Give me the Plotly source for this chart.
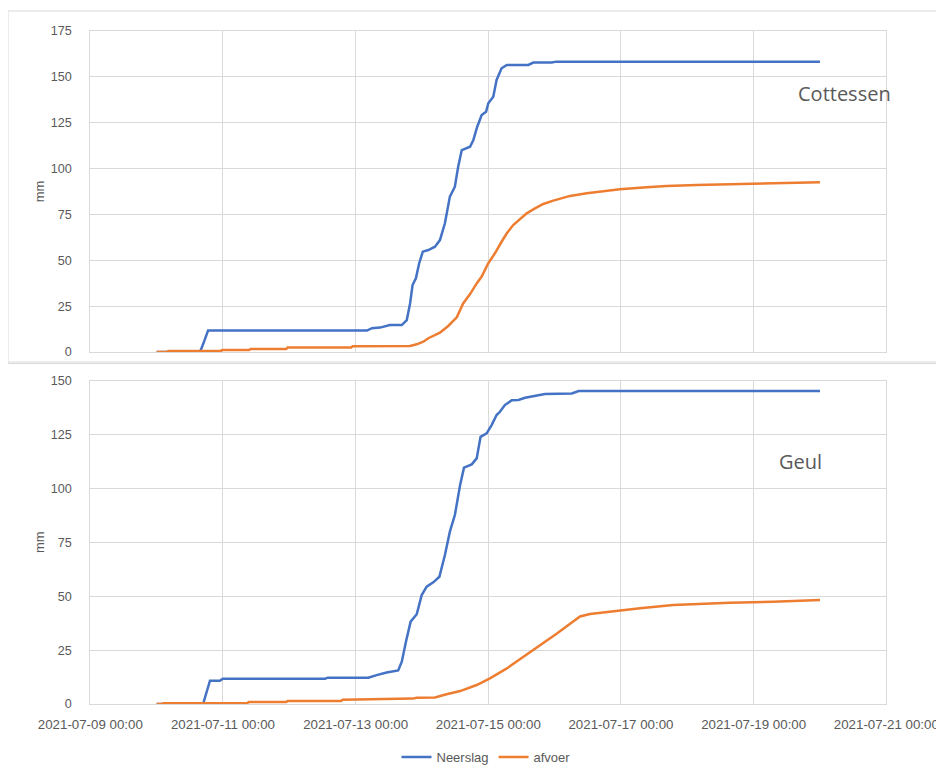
import pandas as pd
import plotly.graph_objects as go

T0 = pd.Timestamp("2021-07-09 00:00")

# Cottessen - hours since 2021-07-09 00:00 and cumulative mm
cot_neer_h = [24, 39.7, 41.0, 42.6, 100.1, 101.9, 104.8, 108.4, 112.7, 114.5, 115.7, 116.6,
              117.8, 119.0, 120.3, 122.3, 124.7, 126.5, 128.3, 130.1, 131.9, 133.1, 134.4,
              137.4, 138.6, 140.0, 141.6, 143.2, 144.0, 145.8, 147.0, 148.8, 150.7, 158.5,
              160.3, 166.9, 168.7, 264]
cot_neer_mm = [0, 0, 5, 11.7, 11.7, 13.0, 13.3, 14.7, 14.7, 17.4, 26.5, 36.5,
               40.2, 48.4, 54.7, 55.6, 57.4, 61, 70.2, 84.7, 90.1, 101, 110.1,
               111.9, 115.6, 122.8, 129.2, 131, 135.6, 139.2, 148.3, 154.7, 156.5, 156.5,
               157.8, 157.8, 158.3, 158.3]

cot_afv_h = [24, 27.6, 28.3, 47.2, 47.7, 57.5, 58.0, 70.9, 71.4, 94.4, 94.9, 115.7, 118.1,
             120.5, 122.3, 126.5, 129.5, 132.6, 134.9, 137.4, 139.8, 141.6, 144.0, 146.4,
             148.8, 150.7, 153.0, 155.5, 157.9, 160.9, 163.9, 167.5, 173.6, 179.6, 185.6,
             191.6, 201.3, 208.5, 219.4, 233.9, 258.0, 264]
cot_afv_mm = [0, 0, 0.5, 0.5, 1.1, 1.1, 1.7, 1.7, 2.4, 2.4, 3.1, 3.3, 4.2,
              5.6, 7.5, 10.5, 14.2, 18.9, 26.5, 31.6, 37.4, 41.1, 48.4, 53.8,
              60.1, 64.7, 69.2, 72.5, 75.6, 78.3, 80.7, 82.5, 85.1, 86.5, 87.8,
              88.7, 89.8, 90.5, 91.1, 91.6, 92.3, 92.5]

# Geul
geul_neer_h = [24, 40.8, 43.3, 46.9, 47.9, 84.9, 86.0, 100.6, 103.6, 107.2, 111.4, 112.7,
               114.2, 115.9, 118.1, 119.9, 121.7, 124.1, 126.3, 128.3, 130.1, 131.9, 133.8,
               135.2, 138.0, 139.8, 141.2, 143.4, 145.2, 147.0, 148.2, 150.0, 152.5, 154.9,
               157.3, 160.9, 164.5, 174.2, 176.7, 264]
geul_neer_mm = [0, 0, 10.8, 10.8, 11.7, 11.7, 12.2, 12.2, 13.4, 14.6, 15.6, 19.6,
                28.9, 38.2, 41.6, 50.5, 54.4, 56.4, 59, 69.1, 79.9, 87.6, 101.5,
                109.6, 111.1, 113.9, 123.9, 125.5, 129.3, 134, 135.5, 138.6, 140.9, 141,
                142, 142.9, 143.7, 144, 145.1, 145.1]

geul_afv_h = [24, 26.0, 26.5, 56.8, 57.3, 70.9, 71.4, 90.8, 91.3, 116.6, 118.1, 124.7,
              128.9, 133.8, 139.8, 144.6, 150.7, 156.7, 162.7, 168.7, 173.6, 177.2, 180.8,
              190.4, 198.9, 210.9, 220.6, 231.4, 247.1, 262.8, 264]
geul_afv_mm = [0, 0, 0.4, 0.4, 0.9, 0.9, 1.4, 1.4, 2.0, 2.5, 2.9, 3.0,
               4.5, 6.0, 8.8, 11.9, 16.5, 21.8, 27.4, 32.6, 37.2, 40.6, 41.7,
               43.3, 44.4, 45.9, 46.4, 47.0, 47.4, 47.9, 48.2]


def to_time(hours):
    return [T0 + pd.Timedelta(hours=h) for h in hours]


BLUE = "#4472C4"
ORANGE = "#ED7D31"
GREY = "#595959"
W, H = 944, 772
OFF = 8  # page body margin


def px(x):
    return (x - OFF) / W


def py(y):
    return (H - (y - OFF)) / H


fig = go.Figure()
fig.add_trace(go.Scatter(x=to_time(cot_neer_h), y=cot_neer_mm, mode="lines", name="Neerslag",
                         line=dict(color=BLUE, width=2.5), xaxis="x2", yaxis="y2", showlegend=False))
fig.add_trace(go.Scatter(x=to_time(cot_afv_h), y=cot_afv_mm, mode="lines", name="afvoer",
                         line=dict(color=ORANGE, width=2.5), xaxis="x2", yaxis="y2", showlegend=False))
fig.add_trace(go.Scatter(x=to_time(geul_neer_h), y=geul_neer_mm, mode="lines", name="Neerslag",
                         line=dict(color=BLUE, width=2.5)))
fig.add_trace(go.Scatter(x=to_time(geul_afv_h), y=geul_afv_mm, mode="lines", name="afvoer",
                         line=dict(color=ORANGE, width=2.5)))

xcommon = dict(range=["2021-07-09 00:00", "2021-07-21 00:00"], tick0="2021-07-09",
               dtick=2 * 86400000, tickformat="%Y-%m-%d %H:%M", showgrid=True,
               gridcolor="#d9d9d9", showline=True, linecolor="#d9d9d9", mirror=True,
               ticks="", tickfont=dict(size=13.3, color=GREY), domain=[px(90.3), px(886.3)],
               zeroline=False, automargin=False, ticklabeloverflow="allow")
ycommon = dict(dtick=25, showgrid=True, gridcolor="#d9d9d9", showline=True,
               linecolor="#d9d9d9", mirror=True, ticks="", ticklabelstandoff=15,
               tickfont=dict(size=12.6, color=GREY), zeroline=False, automargin=False,
               title=dict(text="mm", font=dict(size=13, color=GREY), standoff=3))

fig.update_layout(
    width=W, height=H,
    margin=dict(l=0, r=0, t=0, b=0),
    paper_bgcolor="white", plot_bgcolor="white",
    font=dict(family="Liberation Sans, Arial, sans-serif", color=GREY),
    xaxis=dict(xcommon, anchor="y", ticklabelstandoff=8),
    yaxis=dict(ycommon, range=[0, 150], anchor="x", domain=[py(704), py(380.5)]),
    xaxis2=dict(xcommon, anchor="y2", matches="x", showticklabels=False),
    yaxis2=dict(ycommon, range=[0, 175], anchor="x2", domain=[py(352), py(31)]),
    legend=dict(orientation="h", x=px(486), xanchor="center", y=py(757),
                yanchor="middle", font=dict(size=13, color=GREY), itemwidth=30),
    annotations=[
        dict(text="Cottessen", x=px(844), y=py(94), xref="paper", yref="paper",
             xanchor="center", yanchor="middle", showarrow=False,
             font=dict(size=20, color=GREY, family="Open Sans, sans-serif")),
        dict(text="Geul", x=px(800), y=py(461), xref="paper", yref="paper",
             xanchor="center", yanchor="middle", showarrow=False,
             font=dict(size=20, color=GREY, family="Open Sans, sans-serif")),
    ],
    shapes=[
        dict(type="rect", xref="paper", yref="paper", x0=px(8), x1=1.0, y0=py(362),
             y1=py(11), line=dict(color="#d9d9d9", width=1)),
        dict(type="rect", xref="paper", yref="paper", x0=px(7), x1=1.0, y0=0,
             y1=py(363.5), line=dict(color="#d9d9d9", width=1)),
    ],
)

fig.write_html("out.html")
